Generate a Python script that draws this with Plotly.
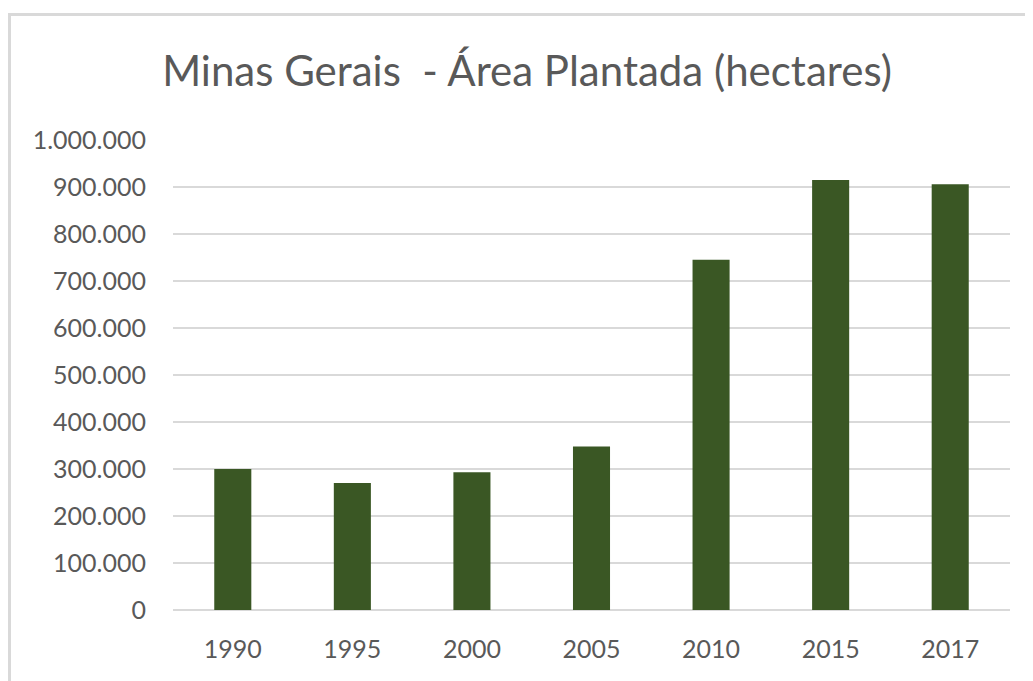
import plotly.graph_objects as go

years = ["1990", "1995", "2000", "2005", "2010", "2015", "2017"]
area_ha = [300000, 270000, 293000, 348000, 745000, 915000, 906000]
y_ticks = [0, 100000, 200000, 300000, 400000, 500000, 600000, 700000, 800000, 900000, 1000000]

# page body has an 8px offset; work in figure coordinates
OFF = 8
W, H = 1033, 681
L, T = 173 - OFF, 140 - OFF
pw, ph = 837, 470
R = W - L - pw
B = H - T - ph

def px(x):
    return (x - OFF - L) / pw

def py(y):
    return (T + ph - (y - OFF)) / ph

fig = go.Figure(
    go.Bar(
        x=years,
        y=area_ha,
        marker=dict(color="#3a5724", line=dict(width=0)),
        hoverinfo="x+y",
    )
)

fig.update_layout(
    width=W,
    height=H,
    margin=dict(l=L, r=R, t=T, b=B, pad=0),
    paper_bgcolor="white",
    plot_bgcolor="white",
    separators=",.",
    bargap=0.69,
    showlegend=False,
    font=dict(family="Lato", color="#595959"),
    title=dict(
        text="Minas Gerais  - Área Plantada (hectares)",
        x=(527 - OFF) / W,
        xanchor="center",
        xref="container",
        y=1 - (71.5 - OFF) / H,
        yanchor="middle",
        yref="container",
        font=dict(family="Lato", size=42, color="#595959"),
    ),
    xaxis=dict(
        type="category",
        showgrid=False,
        showline=False,
        zeroline=False,
        ticks="",
        tickfont=dict(size=25, color="#595959"),
        ticklabelstandoff=22,
    ),
    yaxis=dict(
        range=[0, 1000000],
        tickvals=y_ticks,
        tickformat=",d",
        showgrid=True,
        gridcolor="#d9d9d9",
        gridwidth=1.5,
        zeroline=True,
        zerolinecolor="#d9d9d9",
        zerolinewidth=1.5,
        showline=False,
        ticks="",
        tickfont=dict(size=25, color="#595959"),
        ticklabelstandoff=26,
    ),
    shapes=[
        dict(
            type="rect",
            xref="paper",
            yref="paper",
            x0=px(9.5),
            x1=px(1060),
            y0=py(720),
            y1=py(14.5),
            line=dict(color="#d9d9d9", width=3),
            fillcolor="rgba(0,0,0,0)",
            layer="below",
        )
    ],
)

fig.write_html("out.html")
